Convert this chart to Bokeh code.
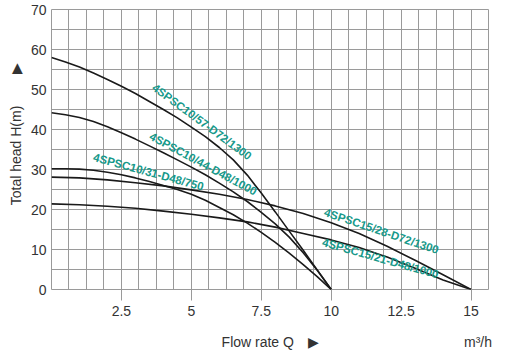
from bokeh.plotting import figure
from bokeh.models import FixedTicker, Range1d, ColumnDataSource, LinearAxis
from bokeh.core.properties import value
from bokeh.embed import file_html
from bokeh.resources import INLINE

# ---- data ----
q_10_57 = [0, 0.5, 1, 1.5, 2, 2.5, 3, 3.5, 4, 4.5, 5, 5.5, 6, 6.5, 7, 7.5, 8, 8.5, 9, 9.5, 10]
h_10_57 = [58.0, 56.9, 55.6, 54.1, 52.5, 50.8, 49.0, 47.0, 45.0, 42.9, 40.6, 38.2, 35.5,
           32.4, 28.6, 24.1, 19.4, 14.6, 9.8, 4.9, 0]

q_10_44 = [0, 0.5, 1, 1.5, 2, 2.5, 3, 3.5, 4, 4.5, 5, 5.5, 6, 6.5, 7, 7.5, 8, 8.5, 9, 9.5, 10]
h_10_44 = [44.2, 43.7, 43.0, 42.0, 40.7, 39.2, 37.6, 35.9, 34.2, 32.4, 30.6, 28.7, 26.6,
           24.4, 22.0, 19.3, 16.4, 13.1, 9.2, 4.8, 0]

q_10_31 = [0, 0.5, 1, 1.5, 2, 2.5, 3, 3.5, 4, 4.5, 5, 5.5, 6, 6.5, 7, 7.5, 8, 8.5, 9, 9.5, 10]
h_10_31 = [30.2, 30.2, 30.1, 29.8, 29.3, 28.7, 27.9, 27.0, 26.0, 25.0, 23.8, 22.3, 20.5,
           18.7, 16.6, 14.3, 11.8, 9.1, 6.2, 3.2, 0]

q_15_28 = [0, 1, 2, 3, 4, 5, 6, 7, 8, 9, 10, 11, 12, 13, 14, 15]
h_15_28 = [28.1, 27.9, 27.4, 26.7, 25.9, 24.9, 23.8, 22.5, 20.9, 19.0, 16.7, 14.0, 10.8, 7.3, 3.7, 0]

q_15_21 = [0, 1, 2, 3, 4, 5, 6, 7, 8, 9, 10, 11, 12, 13, 14, 15]
h_15_21 = [21.4, 21.2, 20.8, 20.3, 19.6, 18.8, 17.9, 16.9, 15.6, 14.0, 12.4, 10.5, 8.1, 5.3, 2.4, 0]

curve_names = ["4SPSC10/57-D72/1300", "4SPSC10/44-D48/1000", "4SPSC10/31-D48/750",
               "4SPSC15/28-D72/1300", "4SPSC15/21-D48/1000"]
label_q = [5.38, 5.43, 3.47, 11.8, 11.76]
label_h = [41.9, 31.4, 29.4, 14.6, 7.8]
label_angle = [-36.3, -28.3, -15.3, -18.7, -15.8]

x_ticks = [2.5, 5, 7.5, 10, 12.5, 15]
y_ticks = [0, 10, 20, 30, 40, 50, 60, 70]
x_grid = [i * 0.625 for i in range(26)]
y_grid = [i * 5 for i in range(15)]

x_title_pos = [7.375, 9.375, 15.25]
x_title_text = ["Flow rate Q", "▶", "m³/h"]
y_title_pos = [33.5, 55.25]
y_title_text = ["Total head H(m)", "▶"]

TEXT = "#333333"
GRID = "#9a9a9a"
TEAL = "#17998a"
FONT = "Liberation Sans"

p = figure(width=526, height=357, output_backend="svg", toolbar_location=None,
           x_range=Range1d(0, 15.625), y_range=Range1d(0, 70),
           min_border_left=51, min_border_right=38, min_border_top=9, min_border_bottom=68)
p.background_fill_color = "white"
p.border_fill_color = "white"
p.outline_line_color = GRID
p.outline_line_width = 1

p.xaxis.ticker = FixedTicker(ticks=x_ticks)
p.yaxis.ticker = FixedTicker(ticks=y_ticks)
p.xgrid.ticker = FixedTicker(ticks=x_grid)
p.ygrid.ticker = FixedTicker(ticks=y_grid)
for g in (p.xgrid, p.ygrid):
    g.grid_line_color = GRID
    g.grid_line_width = 1
    g.grid_line_alpha = 1

p.xaxis.axis_line_color = None
p.xaxis.major_tick_line_color = GRID
p.xaxis.major_tick_out = 11
p.xaxis.major_tick_in = 0
p.xaxis.minor_tick_line_color = None
p.xaxis.major_label_standoff = 5
p.yaxis.axis_line_color = None
p.yaxis.major_tick_line_color = None
p.yaxis.major_tick_out = 0
p.yaxis.major_tick_in = 0
p.yaxis.minor_tick_line_color = None
p.yaxis.major_label_standoff = 5
for ax in (p.xaxis, p.yaxis):
    ax.major_label_text_font = FONT
    ax.major_label_text_font_size = "14px"
    ax.major_label_text_color = TEXT

# title axes: texts positioned through the scales
xt = LinearAxis(ticker=FixedTicker(ticks=x_title_pos),
                major_label_overrides={k: v for k, v in zip(x_title_pos, x_title_text)})
yt = LinearAxis(ticker=FixedTicker(ticks=y_title_pos),
                major_label_overrides={k: v for k, v in zip(y_title_pos, y_title_text)},
                major_label_orientation="vertical")
xt.major_label_standoff = 15
yt.major_label_standoff = 4
for ax in (xt, yt):
    ax.axis_line_color = None
    ax.major_tick_line_color = None
    ax.minor_tick_line_color = None
    ax.major_tick_out = 0
    ax.major_tick_in = 0
    ax.major_label_text_font = FONT
    ax.major_label_text_font_size = "14px"
    ax.major_label_text_color = TEXT
p.add_layout(xt, "below")
p.add_layout(yt, "left")

curves = [(q_10_57, h_10_57), (q_10_44, h_10_44), (q_10_31, h_10_31),
          (q_15_28, h_15_28), (q_15_21, h_15_21)]
for q, h in curves:
    p.line(q, h, line_color="#1a1a1a", line_width=1.6)

src = ColumnDataSource(dict(x=label_q, y=label_h, t=curve_names, a=label_angle))
p.text(x="x", y="y", text="t", angle="a", angle_units="deg", source=src,
       text_color=TEAL, text_font_size="11.5px", text_font_style="bold",
       text_align="center", text_baseline="middle", text_font=value(FONT))

open("out.html", "w").write(file_html(p, INLINE))
